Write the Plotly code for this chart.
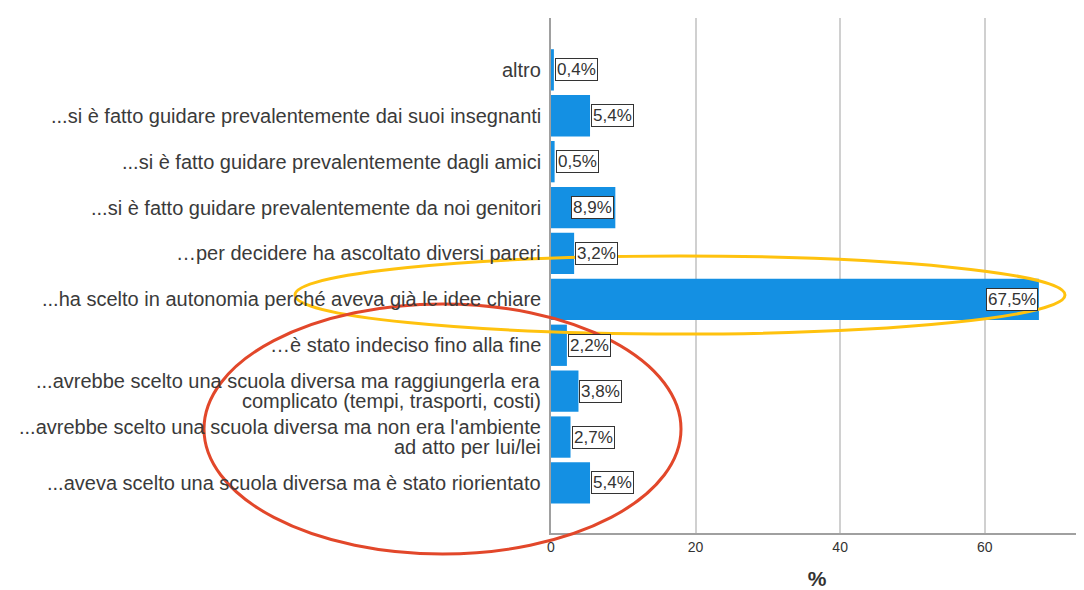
import plotly.graph_objects as go

categories = [
    "altro",
    "...si è fatto guidare prevalentemente dai suoi insegnanti",
    "...si è fatto guidare prevalentemente dagli amici",
    "...si è fatto guidare prevalentemente da noi genitori",
    "…per decidere ha ascoltato diversi pareri",
    "...ha scelto in autonomia perché aveva già le idee chiare",
    "…è stato indeciso fino alla fine",
    "...avrebbe scelto una scuola diversa ma raggiungerla era<br>complicato (tempi, trasporti, costi)",
    "...avrebbe scelto una scuola diversa ma non era l'ambiente<br>ad atto per lui/lei",
    "...aveva scelto una scuola diversa ma è stato riorientato",
]
values = [0.4, 5.4, 0.5, 8.9, 3.2, 67.5, 2.2, 3.8, 2.7, 5.4]
value_labels = ["0,4%", "5,4%", "0,5%", "8,9%", "3,2%", "67,5%", "2,2%", "3,8%", "2,7%", "5,4%"]
x_ticks = [0, 20, 40, 60]

FONT = "Liberation Sans, Arial, sans-serif"
TEXT = "#333333"
W, H = 1084, 590
ML, MR, MT, MB = 543, 9, 10, 65
PW, PH = W - ML - MR, H - MT - MB


def px_x(p):
    return (p - ML) / PW


def px_y(p):
    return (H - MB - p) / PH


fig = go.Figure(go.Bar(
    x=values, y=categories, orientation="h",
    marker=dict(color="#1490E3", line=dict(width=0)),
    width=0.9, hoverinfo="skip",
))

annotations = []
# value labels in boxes
for c, v, lab in zip(categories, values, value_labels):
    inside = v >= 8
    annotations.append(dict(
        x=v, y=c, xref="x", yref="y", text=lab, showarrow=False,
        xanchor="right" if inside else "left",
        xshift=-1 if inside else 1,
        font=dict(family=FONT, size=17, color=TEXT),
        bgcolor="white", bordercolor="#333333", borderwidth=1, borderpad=1,
    ))

# category labels (tight line spacing as in the reference)
LINE = 20
for c in categories:
    lines = c.split("<br>")
    n = len(lines)
    for i, ln in enumerate(lines):
        annotations.append(dict(
            x=0, y=c, xref="paper", yref="y", text=ln, showarrow=False,
            xanchor="right", yanchor="middle", xshift=-8,
            yshift=((n - 1) / 2 - i) * LINE,
            font=dict(family=FONT, size=20, color="#3a3a3a"),
        ))

shapes = [
    dict(type="circle", xref="paper", yref="paper",
         x0=px_x(287), x1=px_x(1057), y0=px_y(326), y1=px_y(248),
         line=dict(color="#FFC20E", width=3), layer="above"),
    dict(type="circle", xref="paper", yref="paper",
         x0=px_x(196), x1=px_x(673), y0=px_y(546), y1=px_y(296),
         line=dict(color="#E2472A", width=3), layer="above"),
]

fig.update_layout(
    width=W, height=H,
    margin=dict(l=ML, r=MR, t=MT, b=MB, pad=0),
    plot_bgcolor="white", paper_bgcolor="white",
    showlegend=False,
    font=dict(family=FONT, color=TEXT),
    annotations=annotations,
    shapes=shapes,
    xaxis=dict(
        range=[0, 73.6], tickvals=x_ticks, ticktext=[str(t) for t in x_ticks],
        showgrid=True, gridcolor="#D0D0D0", gridwidth=1.5,
        zeroline=False, showline=True, linecolor="#A0A0A0", linewidth=2,
        ticks="", tickfont=dict(size=14, color=TEXT),
        title=dict(text="<b>%</b>", font=dict(size=21, color=TEXT), standoff=18),
    ),
    yaxis=dict(
        type="category", categoryorder="array", categoryarray=categories,
        range=[10.09, -1.13],
        showgrid=False, zeroline=False, showline=True, linecolor="#A0A0A0", linewidth=2,
        ticks="", showticklabels=False,
        automargin=False,
    ),
)

fig.write_html("out.html")
